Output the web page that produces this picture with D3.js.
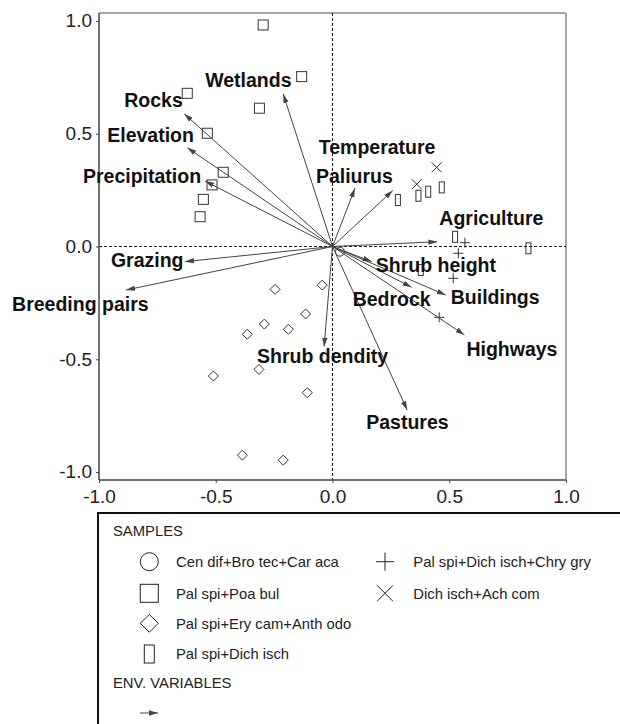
<!DOCTYPE html>
<html>
<head>
<meta charset="utf-8">
<script src="https://cdn.jsdelivr.net/npm/d3@7/dist/d3.min.js"></script>
<style>
  html, body { margin: 0; padding: 0; background: #fff; }
  svg { display: block; font-family: "Liberation Sans", Arial, sans-serif; }
</style>
</head>
<body>
<svg id="chart" width="620" height="724"></svg>
<script>
// ---------------- DATA ----------------
const xTicks = [-1.0, -0.5, 0.0, 0.5, 1.0];
const yTicks = [-1.0, -0.5, 0.0, 0.5, 1.0];

// Environmental variables (arrow tips)
const envNames = ["Rocks", "Elevation", "Precipitation", "Wetlands", "Paliurus", "Temperature",
  "Agriculture", "Grazing", "Breeding pairs", "Shrub height", "Bedrock", "Buildings",
  "Highways", "Shrub dendity", "Pastures"];
const envX = [-0.635, -0.622, -0.546, -0.211, 0.096, 0.258, 0.449, -0.632, -0.884, 0.168, 0.339, 0.485, 0.565, -0.036, 0.320];
const envY = [0.588, 0.438, 0.290, 0.676, 0.258, 0.248, 0.021, -0.067, -0.193, -0.067, -0.181, -0.215, -0.392, -0.444, -0.725];

// Samples by group
const circleX = [0.032];
const circleY = [-0.023];

const squareX = [-0.297, -0.132, -0.622, -0.313, -0.536, -0.468, -0.516, -0.553, -0.567];
const squareY = [0.982, 0.753, 0.679, 0.613, 0.502, 0.329, 0.273, 0.209, 0.132];

const diamondX = [-0.044, -0.246, -0.115, -0.292, -0.189, -0.365, -0.315, -0.510, -0.108, -0.386, -0.211];
const diamondY = [-0.171, -0.190, -0.299, -0.344, -0.367, -0.389, -0.545, -0.574, -0.648, -0.925, -0.947];

const rectX = [0.280, 0.368, 0.410, 0.468, 0.525, 0.839, 0.378];
const rectY = [0.206, 0.225, 0.243, 0.262, 0.043, -0.008, -0.104];

const plusX = [0.567, 0.539, 0.517, 0.457];
const plusY = [0.017, -0.030, -0.141, -0.314];

const crossX = [0.446, 0.361];
const crossY = [0.351, 0.276];

const legendSamples = ["Cen dif+Bro tec+Car aca", "Pal spi+Poa bul", "Pal spi+Ery cam+Anth odo",
  "Pal spi+Dich isch", "Pal spi+Dich isch+Chry gry", "Dich isch+Ach com"];

// ---------------- LAYOUT ----------------
const frame = { left: 99, right: 566, top: 13, bottom: 480 };
// label offsets (px) from the arrow tip: [dx, dy] of text start / baseline
const labelOffset = {
  "Rocks": [-60, -7], "Elevation": [-80, -6], "Precipitation": [-122, 2], "Wetlands": [-78, -7],
  "Paliurus": [-39, -5], "Temperature": [-74, -37], "Agriculture": [2, -17], "Grazing": [-74, 5],
  "Breeding pairs": [-114, 21], "Shrub height": [4, 10], "Bedrock": [-59, 19], "Buildings": [5, 9],
  "Highways": [2, 21], "Shrub dendity": [-67, 16], "Pastures": [-41, 19]
};

const svg = d3.select("#chart");
const x = d3.scaleLinear().domain([-1, 1]).range([frame.left, frame.right]);
const y = d3.scaleLinear().domain([-1.035, 1.035]).range([frame.bottom, frame.top]);

const markColor = "#333";

// frame: top/right lighter, left/bottom darker
svg.append("line").attr("x1", frame.left).attr("x2", frame.right).attr("y1", frame.top).attr("y2", frame.top)
  .attr("stroke", "#888").attr("stroke-width", 1.5);
svg.append("line").attr("x1", frame.right).attr("x2", frame.right).attr("y1", frame.top).attr("y2", frame.bottom)
  .attr("stroke", "#888").attr("stroke-width", 1.5);

// dashed zero lines
svg.append("line").attr("x1", frame.left).attr("x2", frame.right).attr("y1", y(0)).attr("y2", y(0))
  .attr("stroke", "#111").attr("stroke-width", 1).attr("stroke-dasharray", "3,2");
svg.append("line").attr("x1", x(0)).attr("x2", x(0)).attr("y1", frame.top).attr("y2", frame.bottom)
  .attr("stroke", "#111").attr("stroke-width", 1).attr("stroke-dasharray", "3,2");

// axes
const fmt = d => d.toFixed(1);
const xAxis = d3.axisBottom(x).tickValues(xTicks).tickFormat(fmt).tickSizeOuter(0).tickSizeInner(3).tickPadding(7);
const yAxis = d3.axisLeft(y).tickValues(yTicks).tickFormat(fmt).tickSizeOuter(0).tickSizeInner(3).tickPadding(4);

const gx = svg.append("g").attr("transform", `translate(0,${frame.bottom})`).call(xAxis);
const gy = svg.append("g").attr("transform", `translate(${frame.left},0)`).call(yAxis);
[gx, gy].forEach(g => {
  g.select(".domain").attr("stroke", "#444").attr("stroke-width", 1.5);
  g.selectAll(".tick line").attr("stroke", "#444");
  g.selectAll(".tick text").attr("font-size", 19).attr("fill", "#222")
    .attr("font-family", "'Liberation Sans', Arial, sans-serif");
});
gx.select(".domain").attr("d", `M${frame.left},0H${frame.right}`);
gy.select(".domain").attr("d", `M0,${frame.top}V${frame.bottom}`);
gy.selectAll(".tick text").attr("dy", "0.3em");

// arrow marker
const defs = svg.append("defs");
defs.append("marker").attr("id", "ah").attr("viewBox", "0 0 10 6").attr("refX", 10).attr("refY", 3)
  .attr("markerWidth", 9).attr("markerHeight", 5.5).attr("markerUnits", "userSpaceOnUse")
  .attr("orient", "auto")
  .append("path").attr("d", "M0,0L10,3L0,6Z").attr("fill", "#444");

// samples
const gs = svg.append("g").attr("fill", "none").attr("stroke", markColor).attr("stroke-width", 1);
gs.selectAll(".sq").data(d3.range(squareX.length)).join("rect")
  .attr("x", i => x(squareX[i]) - 5).attr("y", i => y(squareY[i]) - 5).attr("width", 10).attr("height", 10);
gs.selectAll(".rc").data(d3.range(rectX.length)).join("rect")
  .attr("x", i => x(rectX[i]) - 2.5).attr("y", i => y(rectY[i]) - 5.5).attr("width", 5).attr("height", 11);
gs.selectAll(".dm").data(d3.range(diamondX.length)).join("path")
  .attr("d", i => { const cx = x(diamondX[i]), cy = y(diamondY[i]); return `M${cx},${cy-5}L${cx+5},${cy}L${cx},${cy+5}L${cx-5},${cy}Z`; });
gs.selectAll(".ci").data(d3.range(circleX.length)).join("circle")
  .attr("cx", i => x(circleX[i])).attr("cy", i => y(circleY[i])).attr("r", 4.5);
gs.selectAll(".pl").data(d3.range(plusX.length)).join("path")
  .attr("d", i => { const cx = x(plusX[i]), cy = y(plusY[i]); return `M${cx-5},${cy}H${cx+5}M${cx},${cy-5}V${cy+5}`; });
gs.selectAll(".cr").data(d3.range(crossX.length)).join("path")
  .attr("d", i => { const cx = x(crossX[i]), cy = y(crossY[i]); return `M${cx-5},${cy-5}L${cx+5},${cy+5}M${cx+5},${cy-5}L${cx-5},${cy+5}`; });

// arrows
const ga = svg.append("g");
ga.selectAll("line").data(d3.range(envNames.length)).join("line")
  .attr("x1", x(0)).attr("y1", y(0))
  .attr("x2", i => x(envX[i])).attr("y2", i => y(envY[i]))
  .attr("stroke", "#444").attr("stroke-width", 1).attr("marker-end", "url(#ah)");

ga.selectAll("text").data(d3.range(envNames.length)).join("text")
  .attr("x", i => x(envX[i]) + labelOffset[envNames[i]][0])
  .attr("y", i => y(envY[i]) + labelOffset[envNames[i]][1])
  .attr("font-size", 19.5).attr("font-weight", "bold").attr("fill", "#111")
  .text(i => envNames[i]);

// legend
const lg = svg.append("g");
lg.append("rect").attr("x", 98).attr("y", 513).attr("width", 540).attr("height", 230)
  .attr("fill", "none").attr("stroke", "#111").attr("stroke-width", 2);
const lfs = 14.8;
lg.append("text").attr("x", 113).attr("y", 536).attr("font-size", lfs).attr("fill", "#222").text("SAMPLES");
lg.append("text").attr("x", 113).attr("y", 688).attr("font-size", lfs).attr("fill", "#222").text("ENV. VARIABLES");

const rowY = [561.7, 593.3, 623.3, 654, 561.7, 593.3];
const colX = [149.3, 149.3, 149.3, 149.3, 385, 385];
const lsym = lg.append("g").attr("fill", "none").attr("stroke", "#222").attr("stroke-width", 1);
legendSamples.forEach((name, i) => {
  const cx = colX[i], cy = rowY[i];
  if (i === 0) lsym.append("circle").attr("cx", cx).attr("cy", cy).attr("r", 9);
  if (i === 1) lsym.append("rect").attr("x", cx - 9).attr("y", cy - 9).attr("width", 18).attr("height", 18);
  if (i === 2) lsym.append("path").attr("d", `M${cx},${cy-9}L${cx+9},${cy}L${cx},${cy+9}L${cx-9},${cy}Z`);
  if (i === 3) lsym.append("rect").attr("x", cx - 5).attr("y", cy - 9).attr("width", 10).attr("height", 18);
  if (i === 4) lsym.append("path").attr("d", `M${cx-9},${cy}H${cx+9}M${cx},${cy-9}V${cy+9}`);
  if (i === 5) lsym.append("path").attr("d", `M${cx-8},${cy-8}L${cx+8},${cy+8}M${cx+8},${cy-8}L${cx-8},${cy+8}`);
  lg.append("text").attr("x", cx + (i < 4 ? 26.7 : 28.3)).attr("y", cy + 5.3)
    .attr("font-size", lfs).attr("fill", "#222").text(name);
});
lg.append("line").attr("x1", 140).attr("x2", 158).attr("y1", 713).attr("y2", 713)
  .attr("stroke", "#444").attr("stroke-width", 1).attr("marker-end", "url(#ah)");
</script>
</body>
</html>
